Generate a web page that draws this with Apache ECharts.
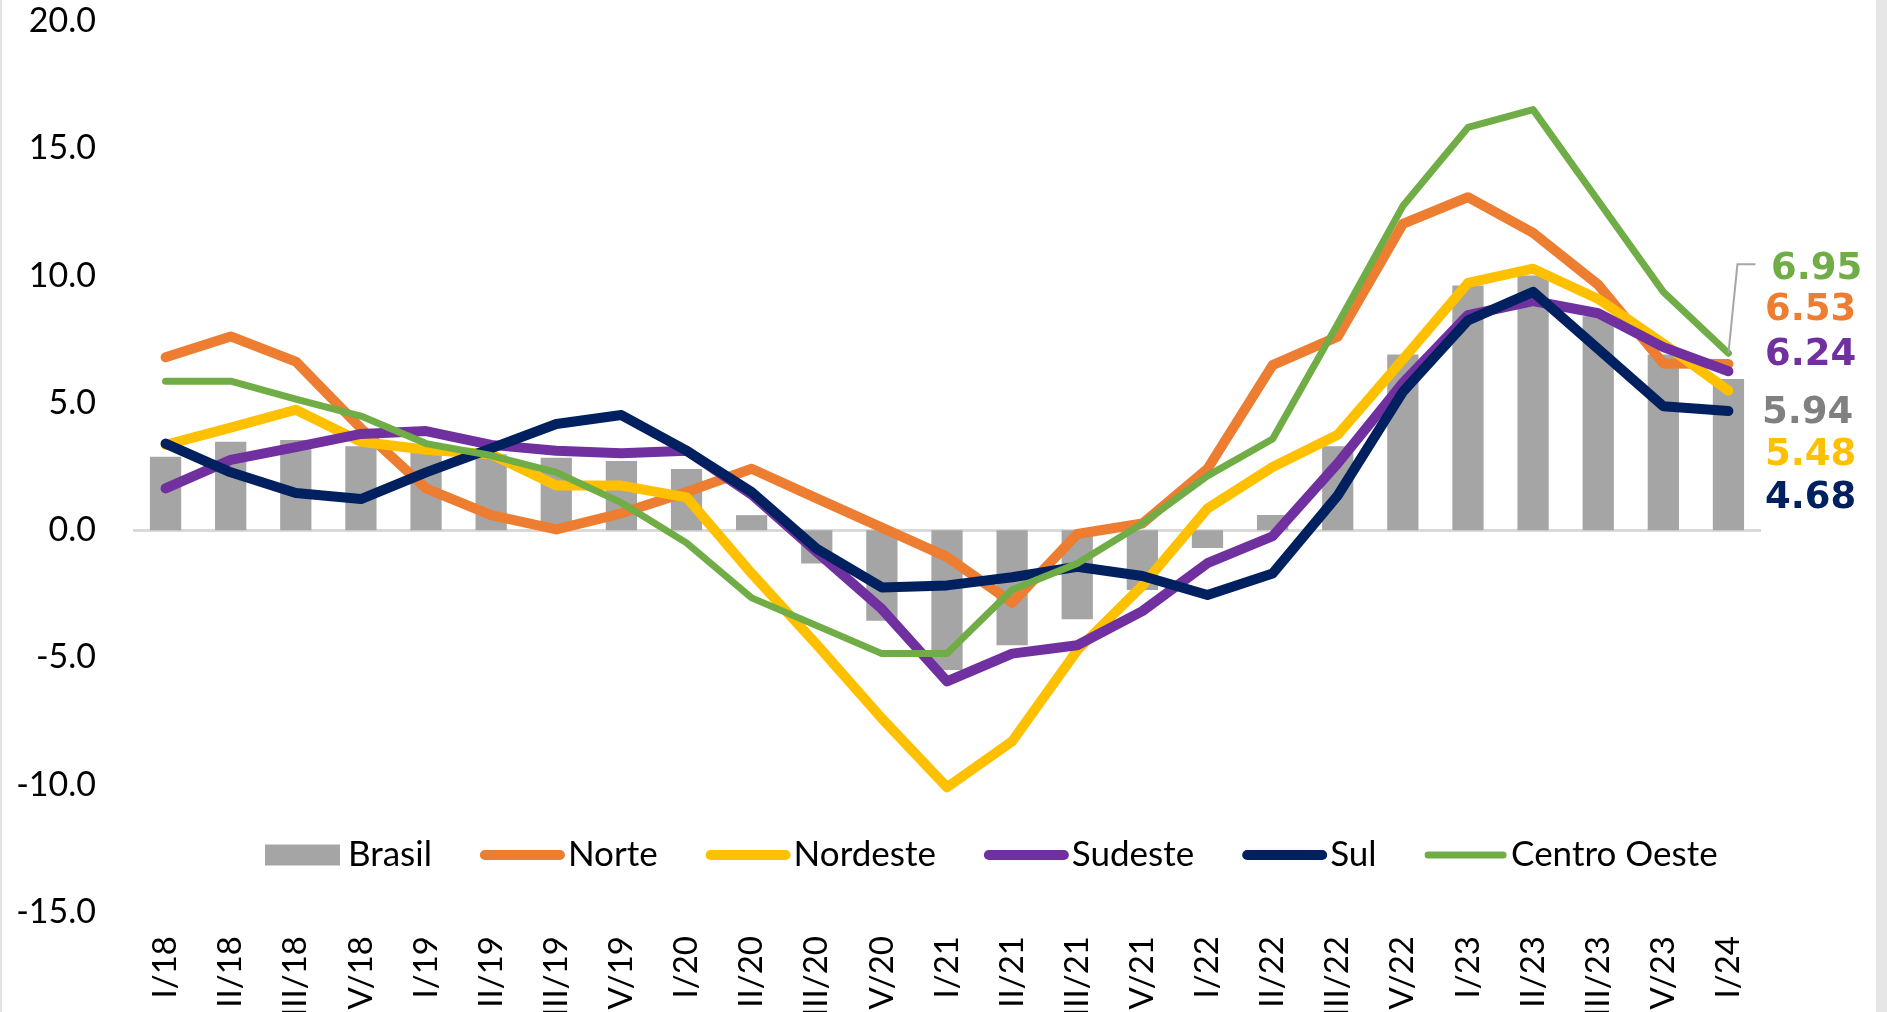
<!DOCTYPE html>
<html>
<head>
<meta charset="utf-8">
<script src="https://cdn.jsdelivr.net/npm/echarts/dist/echarts.min.js"></script>
<style>
  html, body { margin: 0; padding: 0; background: #fff; }
  #chart {
    width: 1874px;
    height: 1012px;
    border-left: 2px solid #e2e2e2;
    border-right: 11px solid #e6e6e6;
    background: #fff;
  }
</style>
</head>
<body>
<div id="chart"></div>
<script>
// trimestres
const quarters = ['I/18', 'II/18', 'III/18', 'IV/18', 'I/19', 'II/19', 'III/19', 'IV/19',
  'I/20', 'II/20', 'III/20', 'IV/20', 'I/21', 'II/21', 'III/21', 'IV/21',
  'I/22', 'II/22', 'III/22', 'IV/22', 'I/23', 'II/23', 'III/23', 'IV/23', 'I/24'];

const brasil = [2.88, 3.47, 3.54, 3.30, 3.05, 2.98, 2.84, 2.72, 2.40, 0.59, -1.31, -3.56,
  -5.49, -4.52, -3.50, -2.35, -0.70, 0.59, 3.30, 6.90, 9.61, 10.0, 8.40, 6.90, 5.94];
const norte = [6.79, 7.61, 6.62, 4.00, 1.64, 0.59, 0.03, 0.66, 1.50, 2.41, 1.25, 0.10,
  -1.05, -2.85, -0.15, 0.26, 2.41, 6.48, 7.60, 12.03, 13.08, 11.68, 9.64, 6.55, 6.53];
const nordeste = [3.35, 4.03, 4.73, 3.47, 3.16, 2.98, 1.75, 1.75, 1.29, -1.70, -4.50, -7.40,
  -10.10, -8.30, -4.72, -2.18, 0.85, 2.48, 3.75, 6.70, 9.71, 10.27, 9.08, 7.33, 5.48];
const sudeste = [1.64, 2.76, 3.26, 3.78, 3.89, 3.35, 3.12, 3.02, 3.12, 1.40, -0.86, -3.10,
  -5.94, -4.85, -4.52, -3.18, -1.30, -0.24, 2.62, 5.78, 8.45, 9.00, 8.52, 7.19, 6.24];
const sul = [3.40, 2.27, 1.46, 1.22, 2.27, 3.21, 4.17, 4.52, 3.12, 1.50, -0.73, -2.25,
  -2.17, -1.85, -1.44, -1.80, -2.55, -1.70, 1.36, 5.43, 8.24, 9.36, 7.12, 4.87, 4.68];
const centroOeste = [5.85, 5.85, 5.15, 4.48, 3.40, 2.93, 2.27, 1.08, -0.50, -2.66, -3.75, -4.85,
  -4.85, -2.34, -1.31, 0.26, 2.13, 3.58, 8.10, 12.73, 15.82, 16.52, 12.94, 9.36, 6.95];

const yTicks = [-15, -10, -5, 0, 5, 10, 15, 20];

var chart = echarts.init(document.getElementById('chart'));

// rotulo do ultimo trimestre
function endLabel(color, dy, extra) {
  return Object.assign({
    show: true,
    position: 'right',
    distance: 36,
    offset: [0, dy],
    formatter: p => Number(p.value).toFixed(2),
    fontFamily: 'DejaVu Sans',
    fontWeight: 'bold',
    fontSize: 37,
    color: color
  }, extra || {});
}

function lineSeries(name, values, color, width, label) {
  var last = values.length - 1;
  var data = values.map(function (v, i) {
    if (i !== last) return v;
    return { value: v, symbol: 'circle', symbolSize: 1, label: label };
  });
  return {
    name: name,
    type: 'line',
    data: data,
    symbol: 'none',
    showAllSymbol: true,
    itemStyle: { color: color },
    lineStyle: { color: color, width: width, join: 'round', cap: 'round' },
    z: 3
  };
}

var barData = brasil.map(function (v, i) {
  if (i !== brasil.length - 1) return v;
  return {
    value: v,
    label: {
      show: true,
      position: 'right',
      distance: 18,
      offset: [0, -41],
      formatter: p => Number(p.value).toFixed(2),
      fontFamily: 'DejaVu Sans',
      fontWeight: 'bold',
      fontSize: 37,
      color: '#808080'
    }
  };
});

chart.setOption({
  animation: false,
  textStyle: { fontFamily: 'Lato' },
  grid: {
    left: 131,
    right: 115,
    top: 21,
    bottom: 100,
    containLabel: false,
    outerBoundsMode: 'none'
  },
  legend: {
    left: 263,
    top: 837,
    padding: 0,
    itemWidth: 75,
    itemHeight: 21,
    itemGap: 48,
    textStyle: { fontSize: 35, lineHeight: 36, color: '#000', fontFamily: 'Lato', padding: [0, 0, 0, 3] },
    lineStyle: { width: 'inherit', cap: 'round' },
    data: [
      { name: 'Brasil', icon: 'rect' },
      { name: 'Norte', itemStyle: { opacity: 0 } },
      { name: 'Nordeste', itemStyle: { opacity: 0 } },
      { name: 'Sudeste', itemStyle: { opacity: 0 } },
      { name: 'Sul', itemStyle: { opacity: 0 } },
      { name: 'Centro Oeste', itemStyle: { opacity: 0 } }
    ]
  },
  xAxis: {
    type: 'category',
    data: quarters,
    axisLine: { show: false, onZero: false },
    axisTick: { show: false },
    axisLabel: {
      interval: 0,
      rotate: 90,
      margin: 24,
      fontSize: 33,
      color: '#000',
      fontFamily: 'Lato'
    },
    splitLine: { show: false }
  },
  yAxis: {
    type: 'value',
    min: yTicks[0],
    max: yTicks[yTicks.length - 1],
    interval: 5,
    axisLine: { show: false },
    axisTick: { show: false },
    splitLine: { show: false },
    axisLabel: {
      margin: 37,
      fontSize: 34,
      color: '#000',
      fontFamily: 'Lato',
      padding: [0, 0, 5, 0],
      formatter: v => v.toFixed(1)
    }
  },
  series: [
    {
      name: 'Brasil',
      type: 'bar',
      data: barData,
      barWidth: '48%',
      itemStyle: { color: '#a5a5a5' },
      z: 2,
      markLine: {
        silent: true,
        symbol: 'none',
        label: { show: false },
        lineStyle: { color: '#d9d9d9', width: 3, type: 'solid' },
        data: [{ yAxis: 0 }],
        z: 1
      }
    },
    lineSeries('Norte', norte, '#ed7d31', 10, endLabel('#ed7d31', -53.5)),
    lineSeries('Nordeste', nordeste, '#ffc000', 10, endLabel('#ffc000', 64.5)),
    lineSeries('Sudeste', sudeste, '#7030a0', 10, endLabel('#7030a0', -16)),
    lineSeries('Sul', sul, '#002060', 10, endLabel('#002060', 87)),
    lineSeries('Centro Oeste', centroOeste, '#70ad47', 7,
      endLabel('#70ad47', -84, { distance: 42 }))
  ]
});

// linha guia do rotulo do Centro Oeste, a partir do ultimo ponto
var lastIdx = quarters.length - 1;
var p = chart.convertToPixel({ seriesIndex: 5 }, [lastIdx, centroOeste[lastIdx]]);
chart.setOption({
  graphic: [{
    type: 'polyline',
    silent: true,
    z: 10,
    shape: { points: [[p[0], p[1]], [p[0] + 9, p[1] - 89], [p[0] + 27, p[1] - 89]] },
    style: { stroke: '#a6a6a6', lineWidth: 2, fill: null }
  }]
});
</script>
</body>
</html>
